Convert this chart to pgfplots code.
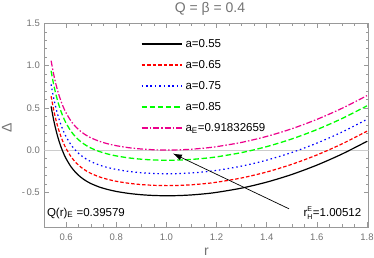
\documentclass[border=0pt]{standalone}
\usepackage{pgfplots}
\usepackage{pgfplotstable}
\pgfplotsset{compat=1.18}
\usetikzlibrary{arrows.meta}
\usepackage{fontspec}
\setmainfont{Liberation Sans}
\definecolor{axgray}{gray}{0.6}
\definecolor{lblgray}{gray}{0.45}
\pgfplotstableread{
r    M       G        B        R        K
0.54 1.0588  0.9380   0.7780   0.6380   0.5180
0.55 0.9008  0.7800   0.6200   0.4800   0.3600
0.56 0.7712  0.6504   0.4904   0.3504   0.2304
0.57 0.6641  0.5433   0.3833   0.2433   0.1233
0.58 0.5753  0.4545   0.2945   0.1545   0.0345
0.59 0.5010  0.3802   0.2202   0.0802  -0.0398
0.60 0.4388  0.3180   0.1580   0.0180  -0.1020
0.62 0.3414  0.2206   0.0606  -0.0794  -0.1994
0.64 0.2702  0.1494  -0.0106  -0.1506  -0.2706
0.66 0.2170  0.0962  -0.0638  -0.2038  -0.3238
0.68 0.1760  0.0552  -0.1048  -0.2448  -0.3648
0.70 0.1439  0.0231  -0.1369  -0.2769  -0.3969
0.73 0.1072 -0.0136  -0.1736  -0.3136  -0.4336
0.76 0.0797 -0.0411  -0.2011  -0.3411  -0.4611
0.80 0.0525 -0.0683  -0.2283  -0.3683  -0.4883
0.85 0.0289 -0.0919  -0.2519  -0.3919  -0.5119
0.90 0.0134 -0.1074  -0.2674  -0.4074  -0.5274
0.95 0.0045 -0.1163  -0.2763  -0.4163  -0.5363
1.00 0.0013 -0.1195  -0.2795  -0.4195  -0.5395
1.05 0.0036 -0.1172  -0.2772  -0.4172  -0.5372
1.10 0.0111 -0.1097  -0.2697  -0.4097  -0.5297
1.15 0.0237 -0.0971  -0.2571  -0.3971  -0.5171
1.20 0.0412 -0.0796  -0.2396  -0.3796  -0.4996
1.30 0.0918 -0.0290  -0.1890  -0.3290  -0.4490
1.40 0.1624  0.0416  -0.1184  -0.2584  -0.3784
1.50 0.2530  0.1322  -0.0278  -0.1678  -0.2878
1.60 0.3636  0.2428   0.0828  -0.0572  -0.1772
1.70 0.4942  0.3734   0.2134   0.0734  -0.0466
1.80 0.6448  0.5240   0.3640   0.2240   0.1040
}\data
\begin{document}
\begin{tikzpicture}
\begin{axis}[
  scale only axis, width=324pt, height=203.4pt,
  xmin=0.513, xmax=1.806, ymin=-0.907, ymax=1.5,
  axis line style={axgray, line width=0.6pt},
  tick style={axgray, line width=0.5pt},
  tick align=inside,
  major tick length=4.5pt, minor tick length=2.5pt,
  xtick={0.6,0.8,1.0,1.2,1.4,1.6,1.8},
  xticklabels={0.6,0.8,1.0,1.2,1.4,1.6,1.8},
  ytick={-0.5,0,0.5,1,1.5},
  yticklabels={-\,0.5,0.0,0.5,1.0,1.5},
  minor x tick num=3, minor y tick num=4,
  ticklabel style={font=\fontsize{9.5}{10}\selectfont, text=lblgray},
  xticklabel style={yshift=-3.5pt},
  yticklabel style={xshift=-1pt},
  xlabel={r}, ylabel={Δ},
  label style={font=\fontsize{14}{16}\selectfont, text=lblgray},
  xlabel style={at={(axis description cs:0.5,-0.123)}, anchor=center},
  ylabel style={at={(axis description cs:-0.116,0.485)}, anchor=center},
  title={Q = β = 0.4},
  title style={font=\fontsize{14}{16}\selectfont, text=lblgray, at={(axis description cs:0.511,1.073)}, anchor=center, yshift=-6pt},
  legend cell align=left,
  legend image code/.code={\draw[#1] (0pt,0pt) -- (40pt,0pt);},
  legend style={at={(axis description cs:0.2975,0.933)}, yshift=-0.5pt, anchor=north west,
    draw=none, fill=none, inner sep=0pt, row sep=8.5pt, column sep=2.3pt,
    font=\fontsize{11.5}{13}\selectfont,
    nodes={inner sep=1pt, text height=8.5pt, text depth=2pt}},
]
\draw[gray!40, line width=0.8pt] (axis cs:0.513,0) -- (axis cs:1.806,0);
\addplot[black, line width=1.2pt, smooth] table[x=r,y=K]{\data};
\addlegendentry{a=0.55}
\addplot[red, line width=1.2pt, smooth, dash pattern=on 3.5pt off 2pt] table[x=r,y=R]{\data};
\addlegendentry{a=0.65}
\addplot[blue, line width=1.2pt, smooth, dash pattern=on 1.5pt off 2.9pt] table[x=r,y=B]{\data};
\addlegendentry{a=0.75}
\addplot[green, line width=1.3pt, smooth, dash pattern=on 5.5pt off 2.6pt] table[x=r,y=G]{\data};
\addlegendentry{a=0.85}
\addplot[magenta, line width=1.2pt, smooth, dash pattern=on 6pt off 2pt on 1.5pt off 2pt] table[x=r,y=M]{\data};
\addlegendentry{a\textsubscript{E}=0.91832659}
\draw[-{Latex[length=9pt,width=6pt]}, line width=0.7pt] (axis cs:1.489,-0.694) -- (axis cs:1.026,-0.04);
\node[anchor=west, font=\fontsize{11.5}{13}\selectfont, inner sep=0pt] at (axis cs:0.523,-0.745) {Q(r)\textsubscript{E} =0.39579};
\node[anchor=east, font=\fontsize{11.5}{13}\selectfont, inner sep=0pt] at (axis cs:1.778,-0.745) {$\mbox{r}^{\mbox{\scriptsize E}}_{\mbox{\scriptsize H}}$=1.00512};
\end{axis}
\pgfresetboundingbox
\path ([shift={(-44.3pt,-30.3pt)}]current axis.south west) rectangle ([shift={(5.5pt,23.3pt)}]current axis.north east);
\end{tikzpicture}
\end{document}
